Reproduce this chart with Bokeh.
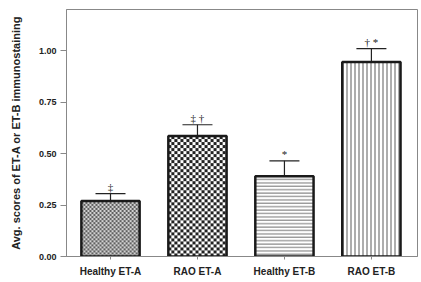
import numpy as np
from bokeh.plotting import figure
from bokeh.models import (ColumnDataSource, Whisker, TeeHead, FixedTicker, Range1d, LabelSet,
                          NumeralTickFormatter)
from bokeh.embed import file_html
from bokeh.resources import INLINE

categories = ["Healthy ET-A", "RAO ET-A", "Healthy ET-B", "RAO ET-B"]
means = [0.27, 0.585, 0.39, 0.945]
upper = [0.305, 0.64, 0.465, 1.01]
marks = ["\u2021", "\u2021 \u2020", "*", "\u2020 *"]
# fill styles: checker textures for the ET-A bars, line hatches for the ET-B bars
patterns = ["blank", "blank", "horizontal_line", "vertical_line"]
pat_scale = [4, 6, 3.4, 4]
pat_weight = [1, 1, 1.2, 1.4]
pat_color = ["#3a3a3a", "#222222", "#8a8a8a", "#8a8a8a"]
checker_cells = {0: (2, (96, 96, 96), (210, 210, 210)), 1: (3, (34, 34, 34), (255, 255, 255))}

W, H = 419, 280
BL, BR, BT, BB = 66, 2, 9, 24
X0, X1, Y0, Y1 = 0.494, 4.53, 0.0, 1.2
BAR_W = 0.67
pxx = (W - BL - BR) / (X1 - X0)
pxy = (H - BT - BB) / (Y1 - Y0)

xs = list(range(1, len(categories) + 1))
src = ColumnDataSource(dict(x=xs, top=means, up=upper, mk=marks, pat=patterns,
                            ps=pat_scale, pw=pat_weight, pc=pat_color))

p = figure(width=W, height=H, output_backend="svg", toolbar_location=None,
           x_range=Range1d(X0, X1), y_range=Range1d(Y0, Y1),
           min_border_left=BL, min_border_right=BR, min_border_top=BT, min_border_bottom=BB)

def checker(nx, ny, cell, dark, light):
    img = np.zeros((ny, nx), dtype=np.uint32)
    v = img.view(dtype=np.uint8).reshape((ny, nx, 4))
    jj, ii = np.meshgrid(np.arange(nx), np.arange(ny))
    mask = ((jj // cell) + (ii // cell)) % 2 == 0
    for k in range(3):
        v[..., k] = np.where(mask, dark[k], light[k])
    v[..., 3] = 255
    return img

imgs, ix, iy, idw, idh = [], [], [], [], []
for i, (cell, dark, light) in checker_cells.items():
    nx = int(round(BAR_W * pxx))
    ny = int(round(means[i] * pxy))
    imgs.append(checker(nx, ny, cell, dark, light))
    ix.append(xs[i] - BAR_W / 2)
    iy.append(0)
    idw.append(BAR_W)
    idh.append(means[i])
p.image_rgba(image=imgs, x=ix, y=iy, dw=idw, dh=idh)

p.vbar(x="x", top="top", width=BAR_W, bottom=0, source=src, fill_color=None,
       line_color="#1a1a1a", line_width=2.5, hatch_pattern="pat", hatch_scale="ps",
       hatch_weight="pw", hatch_color="pc")

w = Whisker(base="x", lower="top", upper="up", source=src, line_color="#222222", line_width=1.2,
            upper_head=TeeHead(size=30, line_color="#222222", line_width=1.2), lower_head=None)
p.add_layout(w)

lab = LabelSet(x="x", y="up", text="mk", source=src, text_align="center", text_baseline="bottom",
               y_offset=1, text_font_size="11px", text_color="#222222", text_font="Liberation Sans")
p.add_layout(lab)

p.xgrid.visible = False
p.ygrid.visible = False
p.outline_line_color = "#888888"
p.outline_line_width = 1

p.xaxis.ticker = FixedTicker(ticks=xs)
p.xaxis.major_label_overrides = {i: c for i, c in zip(xs, categories)}
p.xaxis.major_label_text_font = "Liberation Sans"
p.xaxis.major_label_text_font_style = "bold"
p.xaxis.major_label_text_font_size = "10px"
p.xaxis.major_label_text_color = "#222222"
p.xaxis.axis_line_color = "#888888"
p.xaxis.major_tick_line_color = "#888888"
p.xaxis.major_tick_in = 0
p.xaxis.major_tick_out = 3
p.xaxis.minor_tick_line_color = None
p.xaxis.major_label_standoff = 6

p.yaxis.ticker = FixedTicker(ticks=[0, 0.25, 0.5, 0.75, 1.0])
p.yaxis.formatter = NumeralTickFormatter(format="0.00")
p.yaxis.major_label_text_font = "Liberation Sans"
p.yaxis.major_label_text_font_style = "bold"
p.yaxis.major_label_text_font_size = "9px"
p.yaxis.major_label_text_color = "#222222"
p.yaxis.axis_line_color = "#888888"
p.yaxis.major_tick_line_color = "#888888"
p.yaxis.major_tick_in = 0
p.yaxis.major_tick_out = 6
p.yaxis.minor_tick_line_color = None
p.yaxis.major_label_standoff = 4
p.yaxis.axis_label = "Avg. scores of ET-A or ET-B immunostaining"
p.yaxis.axis_label_text_font = "Liberation Sans"
p.yaxis.axis_label_text_font_style = "bold"
p.yaxis.axis_label_text_font_size = "11px"
p.yaxis.axis_label_text_color = "#222222"
p.yaxis.axis_label_standoff = 14

open("out.html", "w").write(file_html(p, INLINE))
